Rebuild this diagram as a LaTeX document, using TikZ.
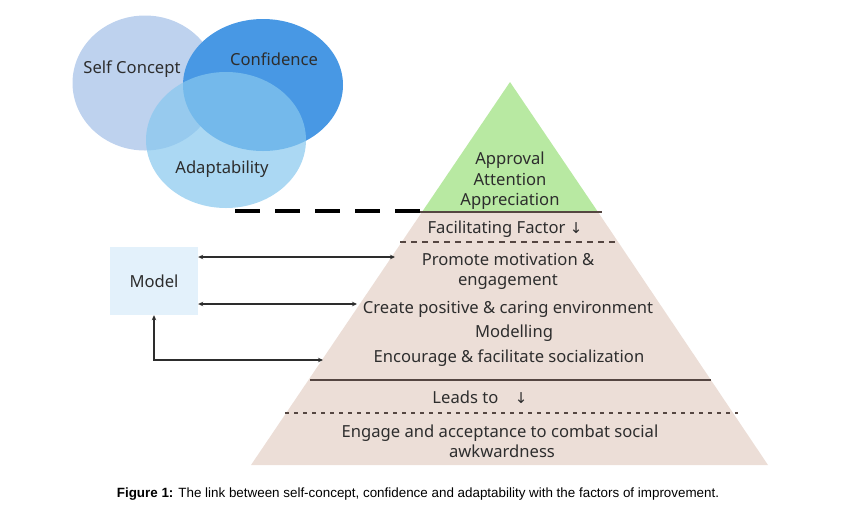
\documentclass[tikz,border=0pt]{standalone}
\usepackage{fontspec}
\setmainfont{Noto Sans}
\newfontfamily\capfont{Liberation Sans}
\newfontfamily\arrfont{DejaVu Sans}
\usetikzlibrary{shapes.geometric,arrows.meta}
\definecolor{selfblue}{RGB}{190,210,238}
\definecolor{confblue}{RGB}{72,152,228}
\definecolor{adaptblue}{RGB}{135,200,238}
\definecolor{apexgreen}{RGB}{184,233,162}
\definecolor{basebeige}{RGB}{236,222,215}
\definecolor{modelblue}{RGB}{227,241,251}
\definecolor{txtgray}{RGB}{45,45,45}
\definecolor{rulebrown}{RGB}{85,70,65}
\newcommand{\dnarrow}{{\arrfont\fontsize{15}{15}\selectfont\symbol{"2193}}}
\begin{document}
\begin{tikzpicture}[x=1pt, y=-1pt,
        venn/.style={ellipse, inner sep=0pt},
        lbl/.style={anchor=base, text=txtgray, inner sep=0pt, font=\fontsize{16.6}{20}\selectfont},
        link/.style={draw=txtgray, line width=1.3pt, {Stealth[length=5pt,width=4.5pt]}-{Stealth[length=5pt,width=4.5pt]}}
    ]
    \useasboundingbox (0,0) rectangle (859,507);

    % Venn diagram
    \node[venn, fill=selfblue, minimum width=145, minimum height=135] (self) at (145,83) {};
    \node[venn, fill=confblue, minimum width=160, minimum height=132] (conf) at (263,85) {};
    \node[venn, fill=adaptblue, fill opacity=0.7, minimum width=160, minimum height=136] (adapt) at (226,140) {};
    \node[lbl] (selflbl) at (132,73) {Self Concept};
    \node[lbl] (conflbl) at (274,65) {Confidence};
    \node[lbl] (adaptlbl) at (222,173) {Adaptability};

    % Pyramid
    \fill[apexgreen] (510,82) -- (598,212) -- (422,212) -- cycle;
    \fill[basebeige] (422,212) -- (598,212) -- (768,465) -- (251,465) -- cycle;
    \draw[rulebrown, line width=1.6pt] (420,212) -- (602,212);
    \draw[rulebrown, line width=1.3pt, dash pattern=on 6pt off 5pt] (400,242) -- (617,242);
    \draw[rulebrown, line width=2pt] (310,380) -- (711,380);
    \draw[rulebrown, line width=2.2pt, dash pattern=on 4pt off 5pt] (285,413) -- (738,413);

    \node[lbl] (appr) at (510,164) {Approval};
    \node[lbl] (attn) at (510,185) {Attention};
    \node[lbl] (apprc) at (510,205) {Appreciation};
    \node[lbl] (facil) at (505,233) {Facilitating Factor \dnarrow};
    \node[lbl] (prom1) at (508,265) {Promote motivation \&};
    \node[lbl] (prom2) at (508,285) {engagement};
    \node[lbl] (create) at (508,313) {Create positive \& caring environment};
    \node[lbl] (modl) at (514,337) {Modelling};
    \node[lbl] (enc) at (509,362) {Encourage \& facilitate socialization};
    \node[lbl] (leads) at (480,403) {Leads to\quad\dnarrow};
    \node[lbl] (eng1) at (500,437) {Engage and acceptance to combat social};
    \node[lbl] (eng2) at (502,457) {awkwardness};

    % Model box and links
    \node[fill=modelblue, minimum width=88, minimum height=68, text=txtgray, font=\fontsize{16.6}{20}\selectfont] (model) at (154,281) {Model};
    \coordinate (p1) at (395,257);
    \coordinate (p2) at (357,304);
    \coordinate (p3) at (323,360);
    \draw[link] (model.east |- p1) -- (p1);
    \draw[link] (model.east |- p2) -- (p2);
    \draw[link] (model.south) |- (p3);

    % thick dashed connector
    \coordinate (vennfoot) at (235,211);
    \coordinate (apexfoot) at (421,211);
    \draw[black, line width=4pt, dash pattern=on 25pt off 15pt] (vennfoot) -- (apexfoot);

    \node[anchor=base, inner sep=0pt, font=\capfont\fontsize{13.4}{16}\selectfont] (caption) at (418,497) {\textbf{Figure 1:} The link between self-concept, confidence and adaptability with the factors of improvement.};
\end{tikzpicture}
\end{document}
